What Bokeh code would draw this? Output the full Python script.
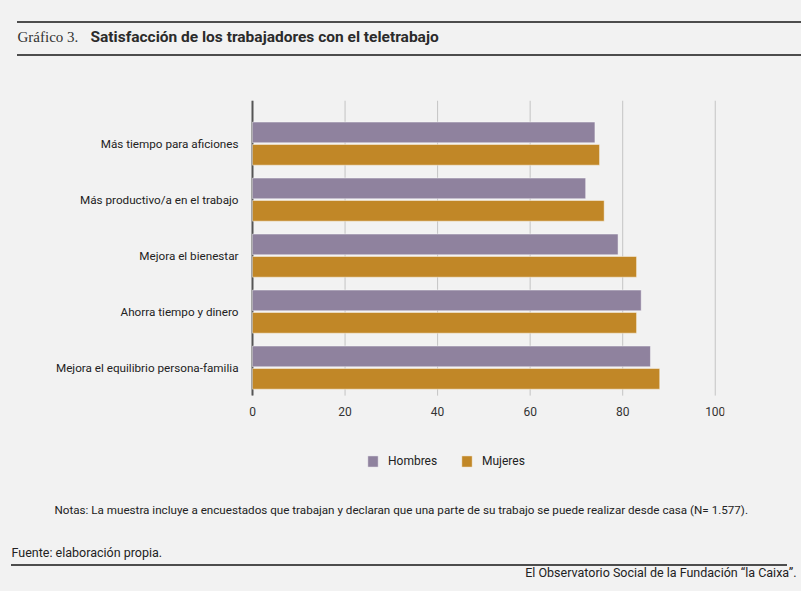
from bokeh.plotting import figure
from bokeh.models import (Range1d, ColumnDataSource, Legend, LegendItem, FixedTicker,
                          Title)
from bokeh.transform import dodge
from bokeh.embed import file_html
from bokeh.resources import INLINE

# ---- data ----
categories = [
    "Más tiempo para aficiones",
    "Más productivo/a en el trabajo",
    "Mejora el bienestar",
    "Ahorra tiempo y dinero",
    "Mejora el equilibrio persona-familia",
]
hombres = [74, 72, 79, 84, 86]
mujeres = [75, 76, 83, 83, 88]
series_names = ["Hombres", "Mujeres"]
x_ticks = [0, 20, 40, 60, 80, 100]

title_num = "Gráfico 3."
title_text = "Satisfacción de los trabajadores con el teletrabajo"
note_text = ("Notas: La muestra incluye a encuestados que trabajan y declaran que una parte "
             "de su trabajo se puede realizar desde casa (N= 1.577).")
source_text = "Fuente: elaboración propia."
credit_text = "El Observatorio Social de la Fundación “la Caixa”."

BG = "#f2f2f2"
W, H = 801, 591
FONT = "Roboto"
C_H = "#8f829e"
C_M = "#c18727"
RULE = "#4d4d4d"

# layout: value 0 sits at page x 252, value 102 at page x 724
ZERO_PX = 252
SCALE = 472 / 102.0                 # px per unit
LEFT, RIGHT, TOP, BOTTOM = 245, 77, 100, 30
X0 = -(ZERO_PX - LEFT) / SCALE
X1 = X0 + (W - LEFT - RIGHT) / SCALE
PX_PER_CAT = 56.0
Y_TOP = -0.77                       # data value at the frame top
Y_AXIS = 4.5                        # where the category area ends (x axis)
Y_BOT = Y_TOP + (H - TOP - BOTTOM) / PX_PER_CAT

y_pos = list(range(len(categories)))
src = ColumnDataSource(dict(y=y_pos, hombres=hombres, mujeres=mujeres))

rules_css = ", ".join([
    f"linear-gradient({RULE},{RULE}) 17px 21px / 784px 2px no-repeat",
    f"linear-gradient({RULE},{RULE}) 17px 54px / 784px 2px no-repeat",
    f"linear-gradient({RULE},{RULE}) 11px 564px / 776px 2px no-repeat",
    BG,
])

p = figure(width=W, height=H, x_range=Range1d(X0, X1), y_range=Range1d(Y_BOT, Y_TOP),
           output_backend="svg", toolbar_location=None,
           min_border_left=LEFT, min_border_right=RIGHT, min_border_top=TOP,
           min_border_bottom=BOTTOM, background_fill_alpha=0, border_fill_alpha=0,
           outline_line_color=None, styles={"background": rules_css})

# vertical grid lines at the x ticks, limited to the category area
p.xgrid.visible = False
p.ygrid.visible = False
p.segment(x0=x_ticks, x1=x_ticks, y0=[Y_TOP] * len(x_ticks), y1=[Y_AXIS] * len(x_ticks),
          line_color="#c4c4c4", line_width=1)
# value axis baseline (x = 0)
p.segment(x0=[0], x1=[0], y0=[Y_TOP], y1=[Y_AXIS], line_color="#555555", line_width=2)

rh = p.hbar(y=dodge("y", -0.2), left=0, right="hombres", height=0.37, source=src,
            fill_color=C_H, line_color="#ffffff", line_alpha=0.45, line_width=1)
rm = p.hbar(y=dodge("y", 0.2), left=0, right="mujeres", height=0.37, source=src,
            fill_color=C_M, line_color="#ffffff", line_alpha=0.45, line_width=1)

p.xaxis.fixed_location = Y_AXIS
p.xaxis.ticker = FixedTicker(ticks=x_ticks)
p.xaxis.axis_line_color = None
p.xaxis.major_tick_line_color = None
p.xaxis.minor_tick_line_color = None
p.xaxis.major_label_standoff = 5
p.xaxis.major_label_text_font = FONT
p.xaxis.major_label_text_font_size = "12px"
p.xaxis.major_label_text_color = "#333333"

p.yaxis.ticker = FixedTicker(ticks=y_pos)
p.yaxis.bounds = (Y_TOP, Y_AXIS)
p.yaxis.major_label_overrides = {i: c for i, c in enumerate(categories)}
p.yaxis.axis_line_color = None
p.yaxis.major_tick_line_color = None
p.yaxis.minor_tick_line_color = None
p.yaxis.major_label_standoff = 1
p.yaxis.major_label_text_font = FONT
p.yaxis.major_label_text_font_size = "11.7px"
p.yaxis.major_label_text_color = "#222222"

frame_bottom = H - BOTTOM
legend = Legend(items=[LegendItem(label=series_names[0], renderers=[rh]),
                       LegendItem(label=series_names[1], renderers=[rm])],
                orientation="horizontal", location=(366 - LEFT, frame_bottom - 454 - 14),
                border_line_color=None, background_fill_alpha=0,
                glyph_width=13, glyph_height=14, label_height=14, label_width=50,
                label_standoff=9, spacing=22, padding=0, margin=0,
                label_text_font=FONT, label_text_font_size="12px",
                label_text_color="#222222")
p.add_layout(legend, "center")


# ---- header and footer: zero-height titles in the panel above the frame ----
def top_title(text, x, top_px, **kw):
    return Title(text=text, align="left", offset=x - LEFT,
                 standoff=2 * (top_px - TOP), vertical_align="top", **kw)


def bottom_title(text, bottom_px, **kw):
    return Title(standoff=-2 * (bottom_px - TOP), vertical_align="bottom", text=text,
                 **kw)


p.add_layout(top_title(title_text, 90, 27.5, text_font=FONT, text_font_style="bold",
                       text_font_size="15.5px", text_color="#2b2b2b"), "above")
p.add_layout(top_title(title_num, 17, 28, text_font="Liberation Serif",
                       text_font_style="normal", text_font_size="15px",
                       text_color="#333333"), "above")
p.add_layout(bottom_title(note_text, 516.3, align="left", offset=54 - LEFT,
                          text_font=FONT, text_font_style="normal",
                          text_font_size="11.65px", text_color="#222222"), "above")
p.add_layout(bottom_title(source_text, 559.7, align="left", offset=11 - LEFT,
                          text_font=FONT, text_font_style="normal",
                          text_font_size="12.5px", text_color="#222222"), "above")
p.add_layout(bottom_title(credit_text, 579.7, align="right",
                          offset=-(796 - (W - RIGHT)), text_font=FONT,
                          text_font_style="normal", text_font_size="12.5px",
                          text_color="#222222"), "above")

html = file_html(p, INLINE)
html = html.replace("<body", '<body style="background-color:#f2f2f2;"', 1)
open("out.html", "w").write(html)
